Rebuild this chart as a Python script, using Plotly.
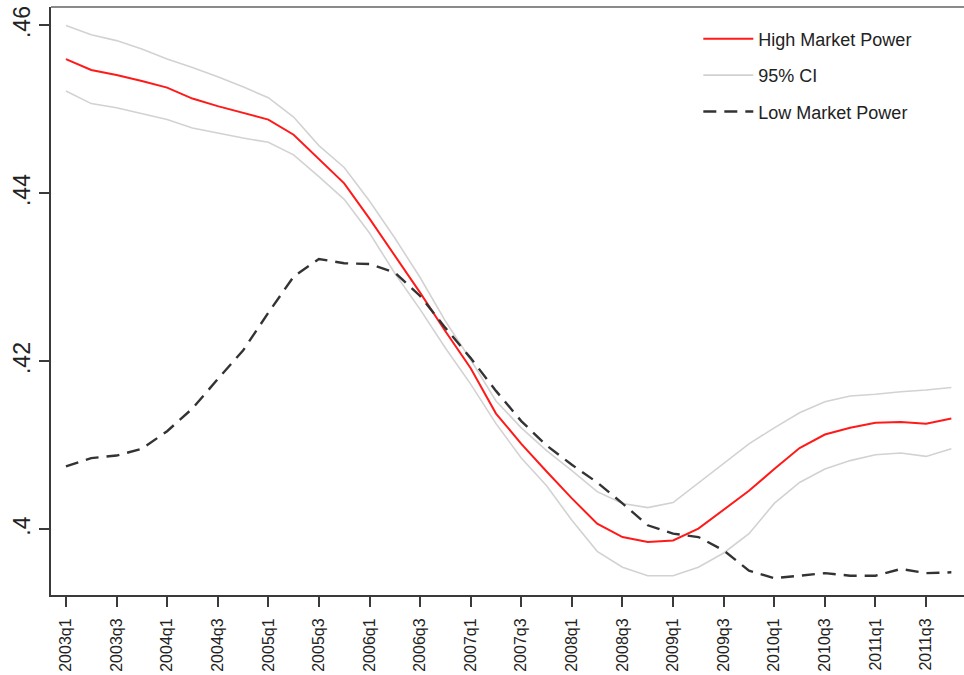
import plotly.graph_objects as go

# Quarterly periods, 2003q1 .. 2011q4
quarters = [f"{y}q{q}" for y in range(2003, 2012) for q in range(1, 5)]
tick_quarters = quarters[::2]

high_mp = [0.4560, 0.4547, 0.4541, 0.4534, 0.4526, 0.4513, 0.4504, 0.4496, 0.4488, 0.4470,
           0.4441, 0.4412, 0.4370, 0.4326, 0.4282, 0.4236, 0.4192, 0.4138, 0.4102, 0.4069,
           0.4037, 0.4007, 0.3991, 0.3985, 0.3987, 0.4001, 0.4023, 0.4046, 0.4072, 0.4097,
           0.4113, 0.4121, 0.4127, 0.4128, 0.4126, 0.4132]

ci_upper = [0.4600, 0.4589, 0.4582, 0.4572, 0.4560, 0.4550, 0.4539, 0.4527, 0.4514, 0.4491,
            0.4457, 0.4431, 0.4391, 0.4347, 0.4300, 0.4248, 0.4202, 0.4153, 0.4121, 0.4094,
            0.4070, 0.4045, 0.4031, 0.4026, 0.4032, 0.4055, 0.4078, 0.4102, 0.4121, 0.4139,
            0.4152, 0.4159, 0.4161, 0.4164, 0.4166, 0.4169]

ci_lower = [0.4522, 0.4507, 0.4502, 0.4495, 0.4488, 0.4478, 0.4472, 0.4466, 0.4461, 0.4446,
            0.4420, 0.4393, 0.4353, 0.4305, 0.4262, 0.4216, 0.4173, 0.4126, 0.4085, 0.4052,
            0.4011, 0.3974, 0.3955, 0.3945, 0.3945, 0.3955, 0.3972, 0.3995, 0.4031, 0.4056,
            0.4072, 0.4082, 0.4089, 0.4091, 0.4087, 0.4096]

low_mp = [0.4075, 0.4085, 0.4088, 0.4096, 0.4117, 0.4144, 0.4179, 0.4213, 0.4258, 0.4301,
          0.4322, 0.4317, 0.4316, 0.4306, 0.4278, 0.4240, 0.4204, 0.4165, 0.4129, 0.4100,
          0.4077, 0.4056, 0.4031, 0.4005, 0.3995, 0.3991, 0.3975, 0.3951, 0.3942, 0.3945,
          0.3948, 0.3945, 0.3945, 0.3953, 0.3948, 0.3949]

y_tick_vals = [0.40, 0.42, 0.44, 0.46]
y_tick_text = [".4", ".42", ".44", ".46"]

FONT = "Liberation Sans, Arial, Helvetica, sans-serif"
AXIS_COLOR = "#3a3a3a"

fig = go.Figure()

fig.add_trace(go.Scatter(
    x=quarters, y=ci_upper, mode="lines", name="95% CI",
    line=dict(color="#d2d2d2", width=1.6),
    legendgroup="ci", legendrank=2,
))
fig.add_trace(go.Scatter(
    x=quarters, y=ci_lower, mode="lines", name="95% CI",
    line=dict(color="#d2d2d2", width=1.6),
    legendgroup="ci", showlegend=False,
))
fig.add_trace(go.Scatter(
    x=quarters, y=high_mp, mode="lines", name="High Market Power",
    line=dict(color="#ff1a1a", width=2),
    legendgroup="high", legendrank=1,
))
fig.add_trace(go.Scatter(
    x=quarters, y=low_mp, mode="lines", name="Low Market Power",
    line=dict(color="#333333", width=2.4, dash="13px,8px"),
    legendgroup="low", legendrank=3,
))

fig.update_layout(
    width=964, height=675,
    margin=dict(l=51, r=0, t=7, b=80),
    paper_bgcolor="white", plot_bgcolor="white",
    font=dict(family=FONT, color="#222222"),
    legend=dict(
        x=0.709, y=0.977, xanchor="left", yanchor="top",
        font=dict(size=18, family=FONT, color="#222222"),
        bgcolor="rgba(0,0,0,0)", borderwidth=0,
        tracegroupgap=10, itemwidth=50,
        traceorder="grouped",
    ),
    xaxis=dict(
        type="category", categoryorder="array", categoryarray=quarters,
        range=[-0.59, 35.5],
        tickmode="array", tickvals=tick_quarters, ticktext=tick_quarters,
        tickangle=-90, tickfont=dict(size=16, family=FONT, color="#222222"),
        ticks="outside", ticklen=10, tickwidth=2, tickcolor=AXIS_COLOR,
        showline=True, linecolor=AXIS_COLOR, linewidth=2,
        showgrid=False, zeroline=False, ticklabelstandoff=5,
    ),
    yaxis=dict(
        range=[0.3922, 0.4622],
        tickmode="array", tickvals=y_tick_vals, ticktext=y_tick_text,
        tickangle=-90, tickfont=dict(size=23, family=FONT, color="#222222"),
        ticks="outside", ticklen=10, tickwidth=2, tickcolor=AXIS_COLOR,
        showline=True, linecolor=AXIS_COLOR, linewidth=2,
        showgrid=False, zeroline=False, ticklabelstandoff=0,
    ),
    shapes=[dict(
        type="line", xref="paper", yref="paper", x0=0, x1=1, y0=1, y1=1,
        line=dict(color="#8a8a8a", width=2), layer="above",
    )],
)

fig.write_html("out.html")
